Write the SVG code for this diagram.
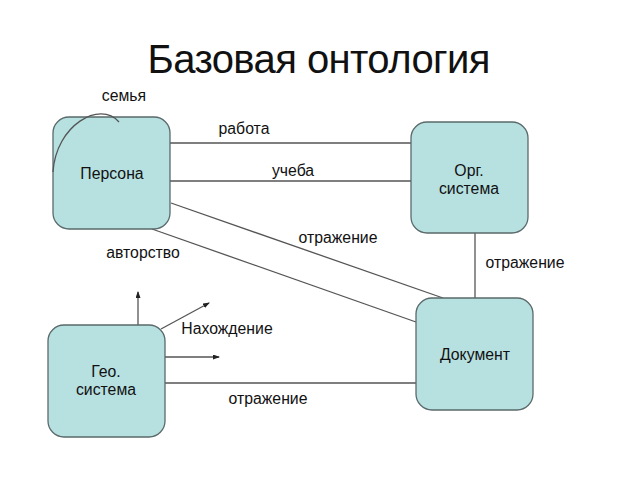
<svg xmlns="http://www.w3.org/2000/svg" width="640" height="480" viewBox="0 0 640 480">
<style>
.node{fill:#b7e0e1;stroke:#5a6a6a;stroke-width:1.3}
.lbl{font-family:"Liberation Sans",Arial,sans-serif;font-size:15.8px;fill:#111;text-anchor:middle}
.ln{stroke:#555;stroke-width:1.3;fill:none}
</style>
<defs>
<marker id="ah" markerWidth="7" markerHeight="5" refX="6" refY="2.5" orient="auto" markerUnits="userSpaceOnUse">
<path d="M0,0 L7,2.5 L0,5 z" fill="#222"/>
</marker>
</defs>
<rect width="640" height="480" fill="#fff"/>
<text x="319" y="73" textLength="343" style="font-family:'Liberation Sans',Arial,sans-serif;font-size:40px;fill:#111;text-anchor:middle">Базовая онтология</text>
<g id="connectors">
<line class="ln" x1="170" y1="143" x2="411" y2="143"/>
<line class="ln" x1="170" y1="181" x2="411" y2="181"/>
<line class="ln" x1="171" y1="203" x2="443" y2="298"/>
<line class="ln" x1="152" y1="229" x2="416" y2="322"/>
<line class="ln" x1="475" y1="233" x2="475" y2="298"/>
<line class="ln" x1="165" y1="383" x2="416" y2="383"/>
<line class="ln" x1="138" y1="325" x2="138" y2="292" marker-end="url(#ah)"/>
<line class="ln" x1="161" y1="329" x2="209" y2="303" marker-end="url(#ah)"/>
<line class="ln" x1="165" y1="357" x2="219" y2="357" marker-end="url(#ah)"/>
</g>
<g id="persona"><rect class="node" x="53" y="117" width="117" height="112" rx="16"/><text class="lbl" x="112" y="179">Персона</text></g>
<g id="org"><rect class="node" x="411" y="122" width="117" height="111" rx="16"/><text class="lbl" x="469" y="176">Орг.</text><text class="lbl" x="469" y="194">система</text></g>
<g id="document"><rect class="node" x="416" y="298" width="117" height="112" rx="16"/><text class="lbl" x="475" y="360">Документ</text></g>
<g id="geo"><rect class="node" x="48" y="325" width="117" height="112" rx="16"/><text class="lbl" x="106" y="377">Гео.</text><text class="lbl" x="106" y="395">система</text></g>
<g id="self-loop">
<path class="ln" d="M53,172 C56,125 100,100 119,122" stroke="#222"/>
</g>
<g id="labels">
<text class="lbl" x="124" y="101">семья</text>
<text class="lbl" x="244" y="134">работа</text>
<text class="lbl" x="293" y="176">учеба</text>
<text class="lbl" x="338" y="243">отражение</text>
<text class="lbl" x="143" y="258">авторство</text>
<text class="lbl" x="525" y="268">отражение</text>
<text class="lbl" x="227" y="334">Нахождение</text>
<text class="lbl" x="268" y="404">отражение</text>
</g>
</svg>
